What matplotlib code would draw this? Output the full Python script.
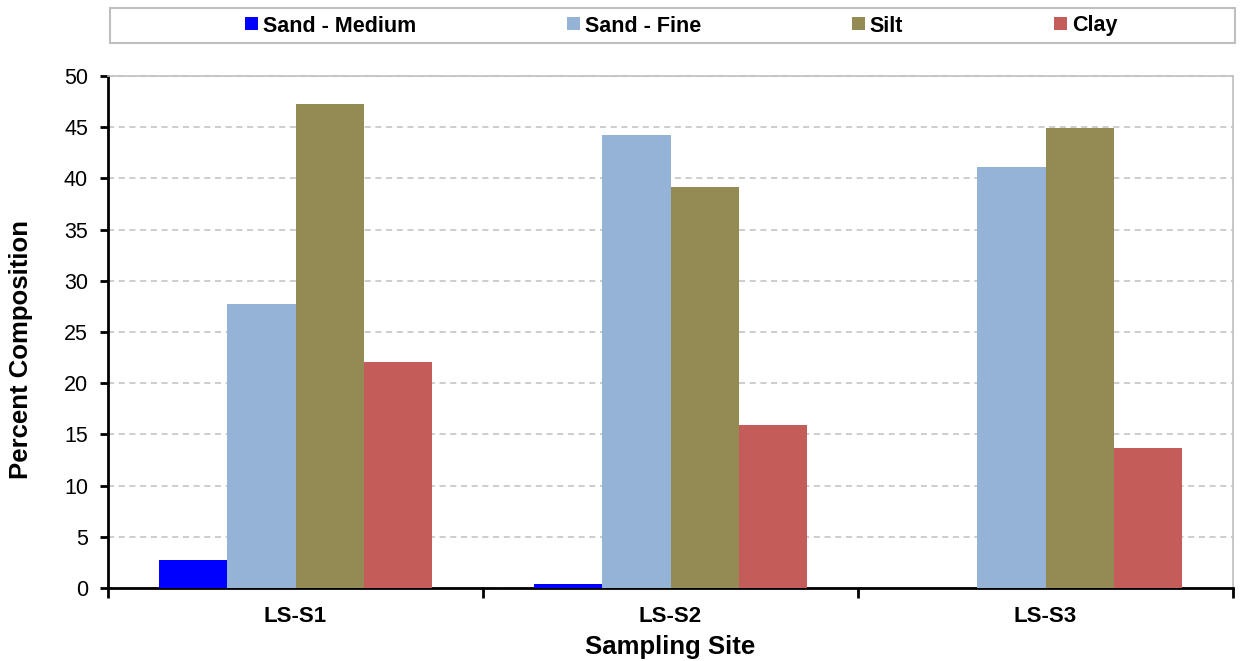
import numpy as np
import matplotlib
matplotlib.use("Agg")
from matplotlib import pyplot as plt
from matplotlib.patches import Rectangle

plt.rcParams['font.family'] = ['Liberation Sans', 'DejaVu Sans']

# data
sites = ['LS-S1', 'LS-S2', 'LS-S3']
series = ['Sand - Medium', 'Sand - Fine', 'Silt', 'Clay']
sand_medium = [2.7, 0.4, 0.0]
sand_fine = [27.7, 44.2, 41.1]
silt = [47.3, 39.2, 44.9]
clay = [22.1, 15.9, 13.7]
colors = ['#0000FF', '#95B3D7', '#948A54', '#C45C59']

values = [sand_medium, sand_fine, silt, clay]

fig = plt.figure(figsize=(12.43, 6.61), dpi=100)
ax = fig.add_axes([0.0869, 0.1104, 0.9051, 0.7746])

x = np.arange(len(sites))
w = 1 / 5.5  # excel gap width 150%
handles = []
for i, (name, vals, c) in enumerate(zip(series, values, colors)):
    off = (i - 1.5) * w
    b = ax.bar(x + off, vals, w, color=c, label=name, zorder=3,
               edgecolor='none')
    handles.append(b)

ax.set_xlim(-0.5, 2.5)
ax.set_ylim(0, 50)
ax.set_yticks(np.arange(0, 51, 5))
ax.yaxis.grid(True, linestyle=(0, (4, 3)), color='#C0C0C0', linewidth=1.1, zorder=0)

ax.set_xticks(x)
ax.set_xticklabels(sites, fontsize=16, fontweight='bold')
ax.set_xticks([-0.5, 0.5, 1.5, 2.5], minor=True)
ax.tick_params(axis='x', which='major', length=0, pad=13)
ax.tick_params(axis='x', which='minor', length=7, width=2, direction='out')
ax.tick_params(axis='y', labelsize=15.5, length=6, width=2, direction='out', pad=8.5)

for s in ['left', 'bottom']:
    ax.spines[s].set_linewidth(2)
    ax.spines[s].set_color('black')
for s in ['top', 'right']:
    ax.spines[s].set_linewidth(1.2)
    ax.spines[s].set_color('#BFBFBF')

ax.set_ylabel('Percent Composition', fontsize=18.5, fontweight='bold')
ax.yaxis.set_label_coords(-0.067, 0.465)
ax.set_xlabel('Sampling Site', fontsize=18.5, fontweight='bold', labelpad=6)

# legend box across the top
fig.patches.append(Rectangle((110 / 1243, 1 - 43 / 661), 1125 / 1243, 35 / 661,
                             transform=fig.transFigure, facecolor='white',
                             edgecolor='#BFBFBF', linewidth=1.5))
fig.legend(handles=handles, loc='center', bbox_to_anchor=(0.548, 1 - 26 / 661),
           ncol=4, frameon=False, prop={'size': 15.5, 'weight': 'bold'},
           handlelength=0.6, handleheight=0.56, handletextpad=0.23,
           columnspacing=7.0)

fig.savefig('out.png', dpi=100)
